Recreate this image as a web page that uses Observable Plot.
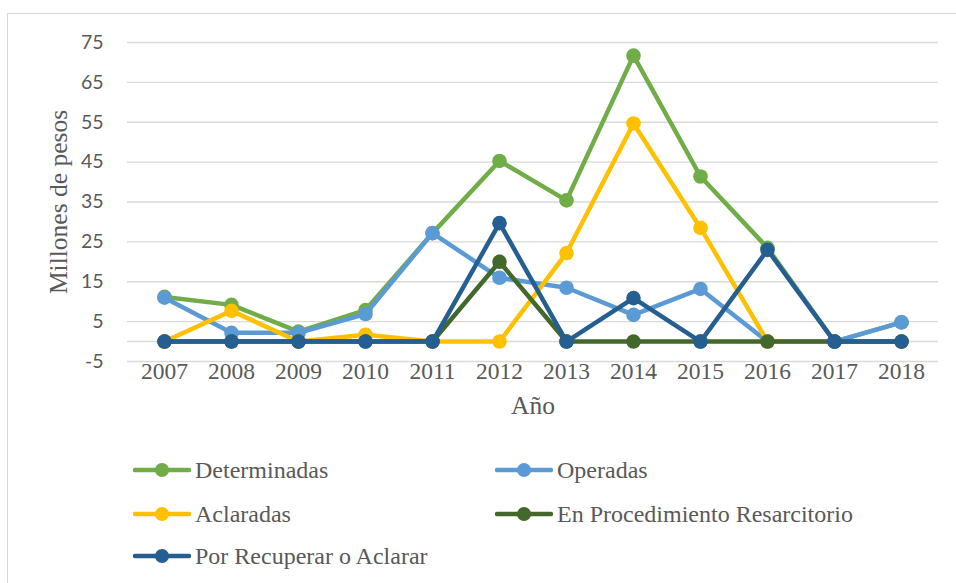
<!DOCTYPE html>
<html>
<head>
<meta charset="utf-8">
<script src="https://cdn.jsdelivr.net/npm/d3@7"></script>
<script src="https://cdn.jsdelivr.net/npm/@observablehq/plot@0.6"></script>
<style>
  body { margin: 0; background: #fff; }
  #wrap { position: relative; width: 956px; height: 583px; overflow: hidden; background: #fff; }
  #frame { position: absolute; left: 7px; top: 13px; width: 960px; height: 600px; border: 1.5px solid #d9d9d9; box-sizing: border-box; }
  #chart { position: absolute; left: 0; top: 0; }
  .leg { position: absolute; display: flex; align-items: center; height: 28px; font-family: "Liberation Serif", "Times New Roman", serif; font-size: 24px; color: #595959; white-space: nowrap; }
  .leg svg { margin-right: 4px; }
</style>
</head>
<body>
<div id="wrap">
  <div id="frame"></div>
  <div id="chart"></div>
  <div id="legend"></div>
</div>
<script>
const years = ["2007","2008","2009","2010","2011","2012","2013","2014","2015","2016","2017","2018"];
const seriesNames = ["Determinadas","Operadas","Aclaradas","En Procedimiento Resarcitorio","Por Recuperar o Aclarar"];
const seriesColors = ["#70AD47","#5B9BD5","#FFC000","#43682B","#255E91"];
const determinadas = [11.2, 9.2, 2.5, 7.9, 27.2, 45.3, 35.4, 71.7, 41.4, 23.5, 0, 4.8];
const operadas     = [11.0, 2.2, 2.2, 6.9, 27.2, 16.0, 13.5, 6.7, 13.2, 0, 0, 4.8];
const aclaradas    = [0, 7.7, 0, 1.7, 0, 0, 22.2, 54.7, 28.5, 0, 0, 0];
const resarcitorio = [0, 0, 0, 0, 0, 20.0, 0, 0, 0, 0, 0, 0];
const recuperar    = [0, 0, 0, 0, 0, 29.7, 0, 10.9, 0, 23.0, 0, 0];
const yTicks = [-5, 5, 15, 25, 35, 45, 55, 65, 75];
const yTitle = "Millones de pesos";
const xTitle = "Año";

const seriesValues = [determinadas, operadas, aclaradas, resarcitorio, recuperar];
const tables = seriesValues.map((vals, s) => years.map((year, i) => ({year, value: vals[i], series: seriesNames[s]})));

const textGray = "#595959";
const serif = "Liberation Serif, Times New Roman, serif";

const seriesMarks = tables.flatMap((rows, s) => [
  Plot.line(rows, {x: "year", y: "value", stroke: seriesColors[s], strokeWidth: 4.5, strokeLinejoin: "round", strokeLinecap: "round"}),
  Plot.dot(rows, {x: "year", y: "value", r: 7.3, fill: seriesColors[s], stroke: "none"})
]);

const chart = Plot.plot({
  width: 956,
  height: 430,
  marginLeft: 127,
  marginRight: 18,
  marginTop: 42,
  marginBottom: 69,
  style: {background: "transparent", overflow: "visible"},
  x: {type: "point", domain: years, padding: 0.5, axis: null},
  y: {domain: [-5, 75], axis: null},
  marks: [
    Plot.ruleY(yTicks, {stroke: "#d9d9d9", strokeWidth: 1.4}),
    Plot.ruleY([0], {stroke: "#d9d9d9", strokeWidth: 1.4}),
    Plot.axisX({tickSize: 0, tickPadding: 1, fontSize: 23.5, fontFamily: serif, color: textGray, label: null}),
    Plot.axisY({ticks: yTicks, tickFormat: d => String(d), tickSize: 0, tickPadding: 24, fontSize: 19.5, fontFamily: "Lato, Open Sans, sans-serif", color: textGray, label: null}),
    Plot.text([yTitle], {frameAnchor: "left", dx: -69, rotate: -90, fontSize: 25.5, fontFamily: serif, fill: textGray, textAnchor: "middle", lineAnchor: "middle"}),
    Plot.text([xTitle], {frameAnchor: "bottom", dy: 44, fontSize: 25.5, fontFamily: serif, fill: textGray, textAnchor: "middle", lineAnchor: "middle"}),
    ...seriesMarks
  ]
});
document.getElementById("chart").appendChild(chart);

// Legend
const legPos = [[133, 470], [495, 470], [133, 514], [495, 514], [133, 556]];
const legend = document.getElementById("legend");
seriesNames.forEach((name, i) => {
  const div = document.createElement("div");
  div.className = "leg";
  div.style.left = legPos[i][0] + "px";
  div.style.top = (legPos[i][1] - 14) + "px";
  div.innerHTML = `<svg width="58" height="18"><line x1="2" y1="9" x2="56" y2="9" stroke="${seriesColors[i]}" stroke-width="4.5" stroke-linecap="round"/><circle cx="29" cy="9" r="7" fill="${seriesColors[i]}"/></svg><span>${name}</span>`;
  legend.appendChild(div);
});
</script>
</body>
</html>
